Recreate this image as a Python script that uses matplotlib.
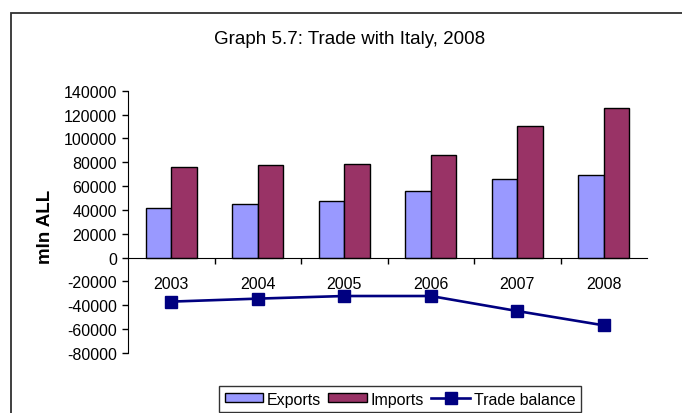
import matplotlib
matplotlib.use("Agg")
import matplotlib.pyplot as plt
from matplotlib.patches import Rectangle
from matplotlib.lines import Line2D
import numpy as np

plt.rcParams["font.family"] = ["Liberation Sans", "DejaVu Sans"]
plt.rcParams["axes.unicode_minus"] = False

years = ["2003", "2004", "2005", "2006", "2007", "2008"]
exports = [41400, 45300, 47900, 56000, 65800, 69100]
imports = [76400, 77500, 78900, 85900, 110800, 125400]
trade_balance = [-36900, -34400, -32200, -32200, -44800, -56800]
y_ticks = [140000, 120000, 100000, 80000, 60000, 40000, 20000, 0,
           -20000, -40000, -60000, -80000]

W, H = 682, 414
fig = plt.figure(figsize=(W / 100, H / 100), dpi=100)
fig.patch.set_facecolor("white")

# outer chart frame
frame = Rectangle((11 / W, -0.1), 1.2, (H - 14) / H + 0.1, transform=fig.transFigure,
                  fill=False, edgecolor="#303030", linewidth=1.3)
fig.add_artist(frame)

ax = fig.add_axes([128 / W, 1 - 354 / H, (647 - 128) / W, (354 - 91.7) / H])
ax.set_facecolor("none")

x = np.arange(len(years))
bw = 0.295
ax.bar(x - bw / 2, exports, bw, color="#9999FF", edgecolor="black", linewidth=1.0,
       label="Exports", zorder=2)
ax.bar(x + bw / 2, imports, bw, color="#993366", edgecolor="black", linewidth=1.0,
       label="Imports", zorder=2)
ax.plot(x, trade_balance, color="#000080", linewidth=1.9, marker="s", markersize=9,
        label="Trade balance", zorder=3)

ax.set_xlim(-0.5, len(years) - 0.5)
ax.set_ylim(-80000, 140000)

# y axis
ax.set_yticks(y_ticks)
ax.set_yticklabels([str(v) for v in y_ticks], fontsize=11.5)
ax.tick_params(axis="y", direction="out", length=4, width=1, pad=4)

# x axis drawn at zero with labels just below it
ax.spines["bottom"].set_position(("data", 0))
ax.spines["top"].set_visible(False)
ax.spines["right"].set_visible(False)
ax.spines["left"].set_color("black")
ax.spines["bottom"].set_color("black")
ax.set_xticks(x)
ax.set_xticklabels(years, fontsize=11.5)
ax.tick_params(axis="x", which="major", length=0, pad=13)
ax.set_xticks(np.arange(0.5, len(years) - 0.5, 1.0), minor=True)
ax.tick_params(axis="x", which="minor", direction="out", length=4, width=1)

fig.text(45 / W, 1 - 227 / H, "mln ALL", rotation=90, ha="center", va="center",
         fontsize=13.5, fontweight="bold")
fig.text(350 / W, 1 - 40 / H, "Graph 5.7: Trade with Italy, 2008", ha="center",
         va="center", fontsize=13.5)

handles = [
    Rectangle((0, 0), 1, 1, facecolor="#9999FF", edgecolor="black", linewidth=1.0),
    Rectangle((0, 0), 1, 1, facecolor="#993366", edgecolor="black", linewidth=1.0),
    Line2D([0], [0], color="#000080", linewidth=1.9, marker="s", markersize=9),
]
leg = fig.legend(handles, ["Exports", "Imports", "Trade balance"], ncol=3,
                 loc="upper center", bbox_to_anchor=(400 / W, 1 - 387 / H),
                 frameon=True, fancybox=False, edgecolor="black", fontsize=11.5,
                 handlelength=2.4, handleheight=0.5, handletextpad=0.25,
                 columnspacing=0.45, borderpad=0.35, borderaxespad=0)
leg.get_frame().set_linewidth(1.0)

fig.savefig("out.png", dpi=100, facecolor="white")
